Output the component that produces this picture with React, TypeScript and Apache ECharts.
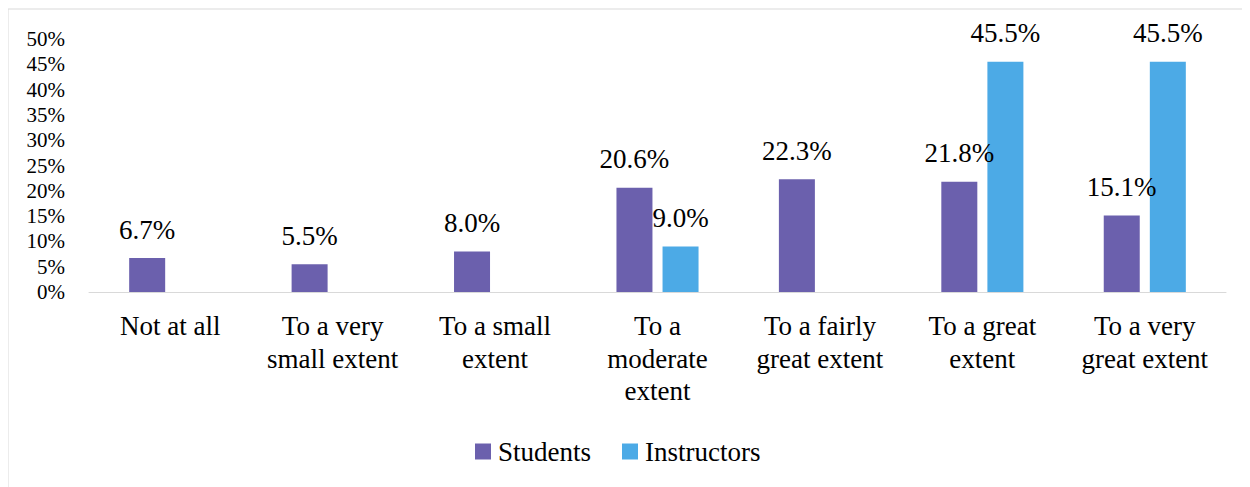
import React, { useEffect, useRef, useState } from "react";
import * as echarts from "echarts";

const categories = [
  "Not at all",
  "To a very\nsmall extent",
  "To a small\nextent",
  "To a\nmoderate\nextent",
  "To a fairly\ngreat extent",
  "To a great\nextent",
  "To a very\ngreat extent",
];
const students = [6.7, 5.5, 8.0, 20.6, 22.3, 21.8, 15.1];
const instructors = [null, null, null, 9.0, null, 45.5, 45.5];
const seriesNames = ["Students", "Instructors"];
const colors = ["#6B60AD", "#4CAAE6"];

const FONT = "serif";

export default function App() {
  const ref = useRef<HTMLDivElement>(null);
  const [tick, setTick] = useState(0);
  useEffect(() => {
    if (!ref.current) return;
    const chart = echarts.init(ref.current, undefined, { renderer: "svg" });
    const label = {
      show: true,
      position: "top",
      distance: 15,
      fontSize: 27,
      fontFamily: FONT,
      color: "#000",
      formatter: (p: any) => (p.value == null ? "" : Number(p.value).toFixed(1) + "%"),
    };
    chart.setOption({
      animation: false,
      graphic: [
        {
          type: "rect",
          shape: { x: 0, y: 1, width: 1300, height: 600 },
          style: { fill: "none", stroke: "#d9d9d9", lineWidth: 1 },
          silent: true,
        },
      ],
      grid: { left: 81, right: 24, top: 31, height: 253 },
      legend: {
        data: seriesNames,
        left: 467,
        top: 430,
        padding: 0,
        itemWidth: 16,
        itemHeight: 16,
        itemGap: 31,
        icon: "rect",
        textStyle: { fontSize: 27, fontFamily: FONT, color: "#000", padding: [0, 0, 0, 2] },
      },
      xAxis: {
        type: "category",
        data: categories,
        axisLine: { show: true, lineStyle: { color: "#d9d9d9", width: 1 } },
        axisTick: { show: false },
        axisLabel: {
          interval: 0,
          fontSize: 27,
          lineHeight: 32.5,
          fontFamily: FONT,
          color: "#000",
          margin: 18,
        },
      },
      yAxis: {
        type: "value",
        min: 0,
        max: 50,
        interval: 5,
        splitLine: { show: false },
        axisLine: { show: false },
        axisTick: { show: false },
        axisLabel: {
          formatter: "{value}%",
          fontSize: 21,
          fontFamily: FONT,
          color: "#000",
          margin: 24,
        },
      },
      series: [
        {
          name: seriesNames[0],
          type: "bar",
          data: students,
          barWidth: 36,
          barGap: "28%",
          itemStyle: { color: colors[0] },
          label,
        },
        {
          name: seriesNames[1],
          type: "bar",
          data: instructors,
          barWidth: 36,
          barGap: "28%",
          itemStyle: { color: colors[1] },
          label,
        },
      ],
    });
    const t = setTimeout(() => {
      chart.resize();
      setTick(1);
    }, 200);
    return () => {
      clearTimeout(t);
      chart.dispose();
    };
  }, []);
  return <div ref={ref} data-tick={tick} style={{ width: 1242, height: 479 }} />;
}
